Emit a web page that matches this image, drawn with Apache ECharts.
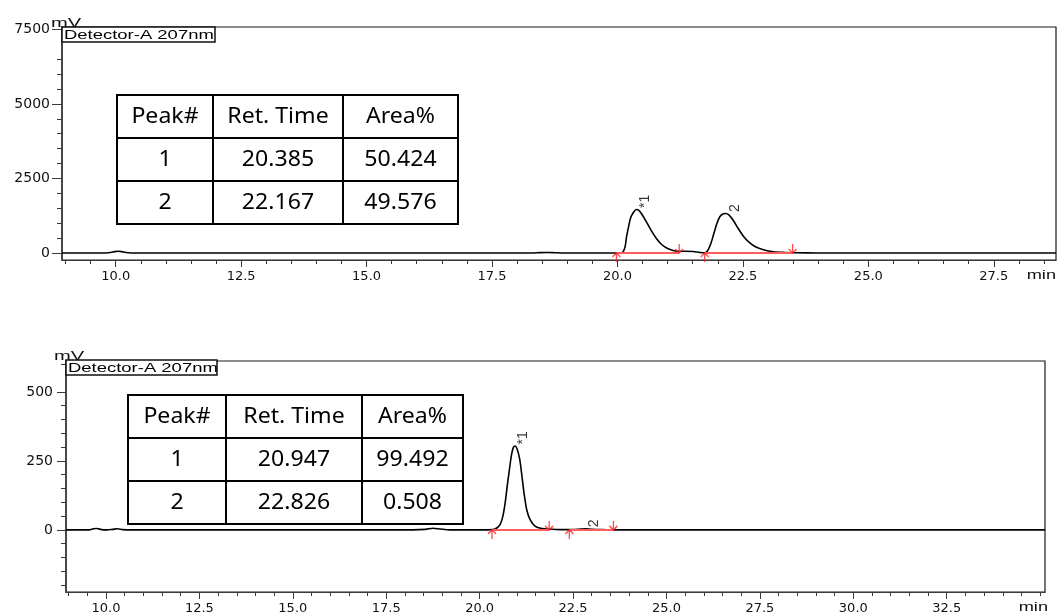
<!DOCTYPE html>
<html>
<head>
<meta charset="utf-8">
<script src="https://cdn.jsdelivr.net/npm/echarts@6/dist/echarts.min.js"></script>
<style>
  html, body { margin: 0; padding: 0; background: #fff; }
  #chart { width: 1057px; height: 615px; }
</style>
</head>
<body>
<div id="chart"></div>
<script>
// ---- Run A (upper chromatogram) ----
const runATrace = [
  [8.93, 0], [9.40, 0], [9.80, 0], [9.90, 15], [9.98, 45], [10.05, 60], [10.12, 45], [10.20, 15], [10.30, 0],
  [11.50, 0], [13.00, 0], [14.50, 0], [16.00, 0], [17.50, 0], [18.30, 0], [18.45, 12], [18.60, 18], [18.75, 10],
  [18.90, 0], [19.50, 0], [20.00, 0], [20.09, 10], [20.15, 195], [20.18, 530], [20.22, 865], [20.26, 1167],
  [20.32, 1368], [20.38, 1458], [20.43, 1425], [20.49, 1290], [20.58, 1033], [20.68, 731], [20.78, 476],
  [20.88, 285], [21.01, 141], [21.18, 60], [21.34, 60], [21.51, 50], [21.64, 17], [21.74, 7], [21.80, 84],
  [21.86, 308], [21.92, 644], [21.98, 979], [22.04, 1213], [22.11, 1314], [22.16, 1324], [22.22, 1280],
  [22.31, 1090], [22.41, 811], [22.51, 563], [22.62, 362], [22.74, 218], [22.91, 107], [23.11, 40],
  [23.34, 17], [23.54, 7], [24.00, 0], [26.00, 0], [28.74, 0]
];
const runAPeakNo = ['1', '2'];
const runARetTime = ['20.385', '22.167'];
const runAArea = ['50.424', '49.576'];
const runAPeakMark = ['*1', '2'];
const runAPeakTop = [[20.385, 1458], [22.167, 1324]];
const runAPeakStart = [19.98, 21.74];
const runAPeakEnd = [21.23, 23.49];
const runAYTicks = [0, 2500, 5000, 7500];
const runAYMinor = [500, 1000, 1500, 2000, 3000, 3500, 4000, 4500, 5500, 6000, 6500];
const runAXTicks = [10.0, 12.5, 15.0, 17.5, 20.0, 22.5, 25.0, 27.5];

// ---- Run B (lower chromatogram) ----
const runBTrace = [
  [8.93, 0], [9.55, 0], [9.66, 4], [9.76, 5], [9.88, 1], [10.02, 0], [10.18, 2], [10.30, 4], [10.45, 1],
  [10.70, 0], [12.00, 0], [13.50, 0], [15.00, 0], [16.50, 0], [17.80, 0], [18.55, 2], [18.75, 6], [18.95, 3],
  [19.20, 0], [20.00, 0], [20.35, 1], [20.46, 7], [20.55, 20], [20.62, 49], [20.68, 95], [20.74, 161],
  [20.80, 222], [20.85, 270], [20.90, 298], [20.95, 304], [21.00, 294], [21.07, 258], [21.13, 197],
  [21.19, 131], [21.26, 73], [21.35, 37], [21.48, 14], [21.66, 5], [21.89, 3], [22.20, 1], [22.50, 1],
  [22.70, 3], [22.83, 4], [23.00, 2], [23.30, 1], [23.60, 0], [25.00, 0], [27.50, 0], [30.00, 0],
  [32.50, 0], [35.13, 0]
];
const runBPeakNo = ['1', '2'];
const runBRetTime = ['20.947', '22.826'];
const runBArea = ['99.492', '0.508'];
const runBPeakMark = ['*1', '2'];
const runBPeakTop = [[20.947, 304], [22.826, 4]];
const runBPeakStart = [20.33, 22.40];
const runBPeakEnd = [21.86, 23.58];
const runBYTicks = [0, 250, 500];
const runBYMinor = [-200, -150, -100, -50, 50, 100, 150, 200, 300, 350, 400, 450, 600];
const runBXTicks = [10.0, 12.5, 15.0, 17.5, 20.0, 22.5, 25.0, 27.5, 30.0, 32.5];

const tableHeader = ['Peak#', 'Ret. Time', 'Area%'];

const AXIS_COLOR = '#3a3a3a';
const LABEL_FONT = 'DejaVu Sans';
const ARROW_UP = 'path://M4 0 L4 9 M0 4 L4 0 L8 4';
const ARROW_DOWN = 'path://M4 0 L4 9 M0 5 L4 9 L8 5';

function halfMinuteTicks(from, to) {
  const out = [];
  for (let v = from; v <= to + 1e-9; v += 0.5) out.push(+v.toFixed(1));
  return out;
}

function xAxesFor(gridIndex, min, max, majors) {
  return [
    {
      gridIndex, type: 'value', position: 'bottom', min, max,
      axisLine: { show: true, onZero: false, lineStyle: { color: AXIS_COLOR, width: 1 } },
      axisTick: { show: true, customValues: majors, length: 7, lineStyle: { color: AXIS_COLOR, width: 1 } },
      axisLabel: {
        show: true, customValues: majors, formatter: v => v.toFixed(1),
        fontFamily: LABEL_FONT, fontSize: 13, color: '#111', margin: 10
      },
      splitLine: { show: false }
    },
    {
      gridIndex, type: 'value', position: 'bottom', min, max,
      axisLine: { show: false, onZero: false },
      axisTick: { show: true, customValues: halfMinuteTicks(9, max), length: 4, lineStyle: { color: AXIS_COLOR, width: 1 } },
      axisLabel: { show: false },
      splitLine: { show: false }
    }
  ];
}

function yAxesFor(gridIndex, min, max, majors, minors, margin, majorLen) {
  return [
    {
      gridIndex, type: 'value', position: 'left', min, max,
      axisLine: { show: true, onZero: false, lineStyle: { color: AXIS_COLOR, width: 1.5 } },
      axisTick: { show: true, customValues: majors, length: majorLen, lineStyle: { color: AXIS_COLOR, width: 1 } },
      axisLabel: {
        show: true, customValues: majors, formatter: v => String(v),
        fontFamily: LABEL_FONT, fontSize: 14, color: '#111', margin
      },
      splitLine: { show: false }
    },
    {
      gridIndex, type: 'value', position: 'left', min, max,
      axisLine: { show: false, onZero: false },
      axisTick: { show: true, customValues: minors, length: 5, lineStyle: { color: AXIS_COLOR, width: 1 } },
      axisLabel: { show: false },
      splitLine: { show: false }
    }
  ];
}

function seriesFor(axisIndex, trace, peakTop, peakMark, starts, ends) {
  const s = [];
  s.push({
    type: 'line', xAxisIndex: axisIndex, yAxisIndex: axisIndex, data: trace,
    showSymbol: false, smooth: 0.25, silent: true, z: 3,
    lineStyle: { color: '#000', width: 1.6 }
  });
  starts.forEach((t, i) => {
    s.push({
      type: 'line', xAxisIndex: axisIndex, yAxisIndex: axisIndex, data: [[t, 0], [ends[i], 0]],
      showSymbol: false, silent: true, z: 4,
      lineStyle: { color: '#ff5c5c', width: 2 }
    });
  });
  s.push({
    type: 'scatter', xAxisIndex: axisIndex, yAxisIndex: axisIndex, silent: true, z: 5,
    data: starts.map(t => [t, 0]), symbol: ARROW_UP, symbolSize: [8, 9], symbolOffset: [0, 4.5],
    itemStyle: { color: 'transparent', borderColor: '#ff1f1f', borderWidth: 1.4 }
  });
  s.push({
    type: 'scatter', xAxisIndex: axisIndex, yAxisIndex: axisIndex, silent: true, z: 5,
    data: ends.map(t => [t, 0]), symbol: ARROW_DOWN, symbolSize: [8, 9], symbolOffset: [0, -4.5],
    itemStyle: { color: 'transparent', borderColor: '#ff1f1f', borderWidth: 1.4 }
  });
  s.push({
    type: 'scatter', xAxisIndex: axisIndex, yAxisIndex: axisIndex, silent: true, z: 6,
    data: peakTop.map((p, i) => ({ value: p, name: peakMark[i] })),
    symbolSize: 1, itemStyle: { color: 'transparent' },
    label: {
      show: true, formatter: '{b}', position: [9, -1], rotate: 90,
      align: 'left', verticalAlign: 'middle',
      fontFamily: 'Liberation Sans', fontSize: 14, color: '#000'
    }
  });
  return s;
}

function tableGraphic(left, top, colW, rowH, rows) {
  const els = [];
  let y = top;
  rows.forEach(row => {
    let x = left;
    row.forEach((cell, c) => {
      els.push({
        type: 'rect', shape: { x, y, width: colW[c], height: rowH },
        style: { fill: '#fff', stroke: '#000', lineWidth: 2 }, z: 10
      });
      els.push({
        type: 'text', x: x + colW[c] / 2, y: y + rowH / 2 + 1, scaleX: 1.1, z: 11,
        style: {
          text: cell, fontFamily: 'Noto Sans', fontSize: 21, fill: '#000',
          align: 'center', verticalAlign: 'middle'
        }
      });
      x += colW[c];
    });
    y += rowH;
  });
  return els;
}

function detectorBox(x, y, w, h) {
  return [
    { type: 'rect', shape: { x, y, width: w, height: h }, style: { fill: '#fff', stroke: '#111', lineWidth: 1.5 }, z: 10 },
    {
      type: 'text', x: x + 2, y: y + h / 2 + 0.5, scaleX: 1.42, z: 11,
      style: { text: 'Detector-A 207nm', fontFamily: 'Liberation Sans', fontSize: 13, fill: '#000', align: 'left', verticalAlign: 'middle' }
    }
  ];
}

function plainText(x, y, text, align, vAlign, scaleX) {
  return {
    type: 'text', x, y, scaleX, z: 11,
    style: { text, fontFamily: 'Liberation Sans', fontSize: 13, fill: '#111', align, verticalAlign: vAlign }
  };
}

const rowsA = [tableHeader].concat(runAPeakNo.map((p, i) => [p, runARetTime[i], runAArea[i]]));
const rowsB = [tableHeader].concat(runBPeakNo.map((p, i) => [p, runBRetTime[i], runBArea[i]]));

const chart = echarts.init(document.getElementById('chart'), null, { renderer: 'canvas' });
chart.setOption({
  animation: false,
  backgroundColor: '#fff',
  grid: [
    { left: 62, right: 1, top: 27, height: 233, show: true, borderColor: '#1a1a1a', borderWidth: 1.2, backgroundColor: 'transparent', outerBoundsMode: 'none' },
    { left: 66, right: 12, top: 361, height: 231, show: true, borderColor: '#1a1a1a', borderWidth: 1.2, backgroundColor: 'transparent', outerBoundsMode: 'none' }
  ],
  xAxis: [].concat(
    xAxesFor(0, 8.93, 28.74, runAXTicks),
    xAxesFor(1, 8.93, 35.13, runBXTicks)
  ),
  yAxis: [].concat(
    yAxesFor(0, -235, 7577, runAYTicks, runAYMinor, 12, 10),
    yAxesFor(1, -225, 612, runBYTicks, runBYMinor, 13, 9)
  ),
  series: [].concat(
    seriesFor(0, runATrace, runAPeakTop, runAPeakMark, runAPeakStart, runAPeakEnd),
    seriesFor(2, runBTrace, runBPeakTop, runBPeakMark, runBPeakStart, runBPeakEnd)
  ),
  graphic: [].concat(
    tableGraphic(117, 95, [96, 130, 115], 43, rowsA),
    tableGraphic(128, 395, [98, 136, 101], 43, rowsB),
    detectorBox(62, 27, 153, 15),
    detectorBox(66, 360, 151, 15),
    [
      plainText(66, 30, 'mV', 'center', 'bottom', 1.55),
      plainText(69, 363, 'mV', 'center', 'bottom', 1.55),
      plainText(1056, 269, 'min', 'right', 'top', 1.4),
      plainText(1048, 601, 'min', 'right', 'top', 1.4)
    ]
  )
});
</script>
</body>
</html>
